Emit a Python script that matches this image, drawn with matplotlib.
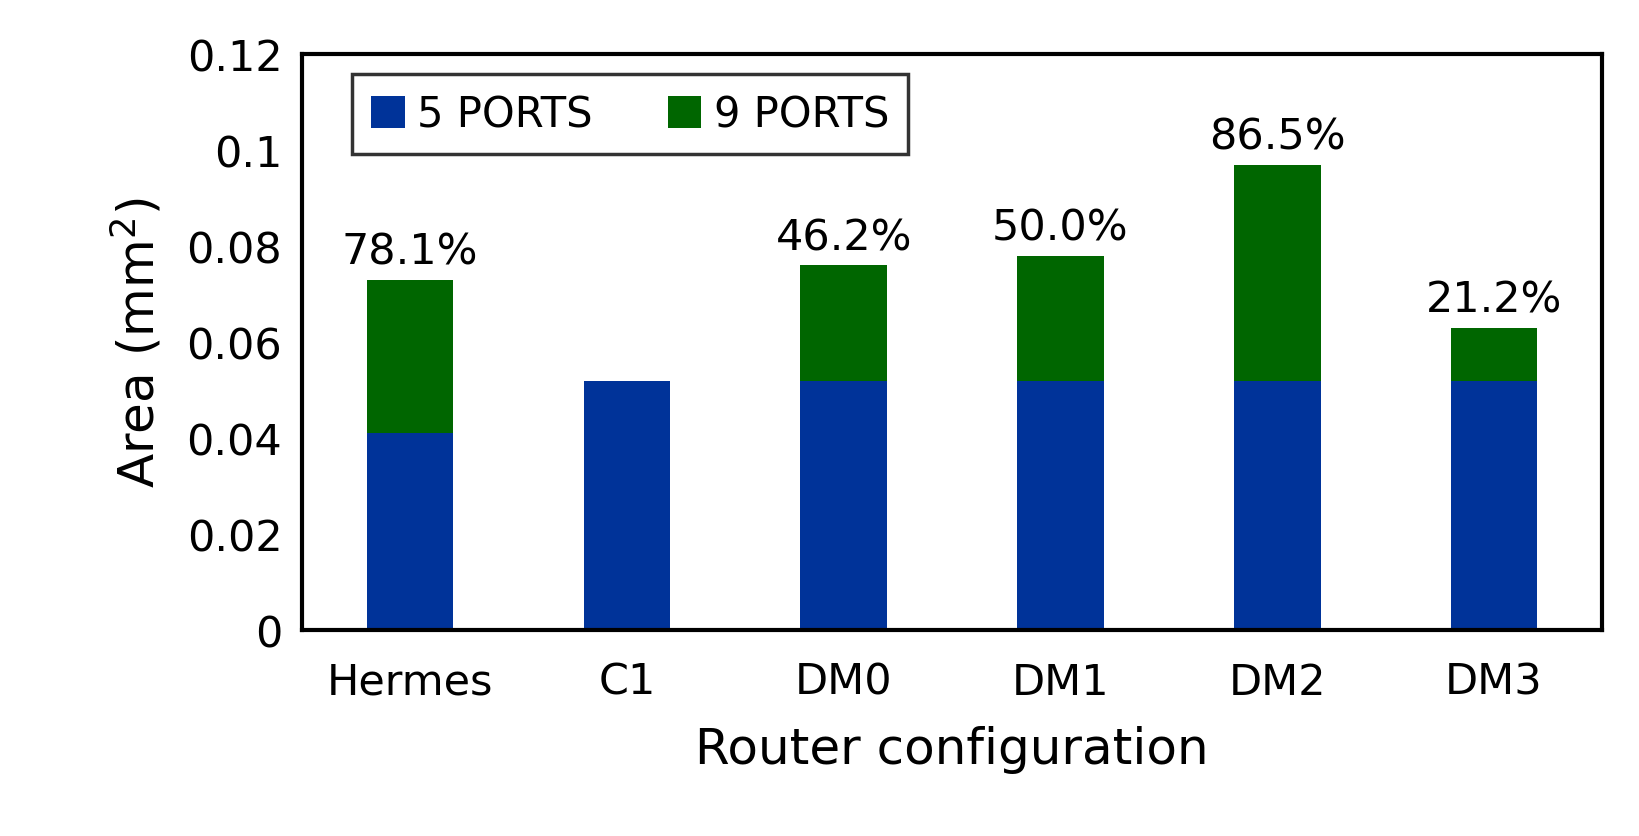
import matplotlib
matplotlib.use("Agg")
import matplotlib.pyplot as plt
import numpy as np

categories = ["Hermes", "C1", "DM0", "DM1", "DM2", "DM3"]
ports5 = [0.041, 0.052, 0.052, 0.052, 0.052, 0.052]
ports9_total = [0.073, None, 0.076, 0.078, 0.097, 0.063]
labels = ["78.1%", "", "46.2%", "50.0%", "86.5%", "21.2%"]

fig = plt.figure(figsize=(16.4, 8.37), dpi=100)
ax = fig.add_axes([0.184, 0.246, 0.793, 0.688])
x = np.arange(len(categories))
w = 0.4
ax.bar(x, ports5, w, color="#003399", label="5 PORTS")
extra = [(t - b) if t is not None else 0 for t, b in zip(ports9_total, ports5)]
ax.bar(x, extra, w, bottom=ports5, color="#006600", label="9 PORTS")
for xi, t, l in zip(x, ports9_total, labels):
    if t is not None:
        ax.text(xi, t + 0.0015, l, ha="center", va="bottom", fontsize=31)
ax.set_xlim(-0.5, 5.5)
ax.set_ylim(0, 0.12)
ax.set_yticks([0, 0.02, 0.04, 0.06, 0.08, 0.1, 0.12])
ax.set_yticklabels(["0", "0.02", "0.04", "0.06", "0.08", "0.1", "0.12"])
ax.set_xticks(x)
ax.set_xticklabels(categories)
ax.tick_params(axis="both", labelsize=31, length=0, pad=14)
ax.tick_params(axis="x", pad=22)
for s in ax.spines.values():
    s.set_linewidth(3)
ax.set_ylabel("Area (mm$^2$)", fontsize=36, labelpad=16)
ax.set_xlabel("Router configuration", fontsize=36, labelpad=16)
leg = ax.legend(loc="upper left", bbox_to_anchor=(0.039, 0.965),
                ncol=2, fontsize=30, frameon=True, fancybox=False, edgecolor="black",
                handlelength=0.8, handleheight=0.8, handletextpad=0.3,
                borderpad=0.45, columnspacing=1.8, borderaxespad=0)
leg.get_frame().set_linewidth(2.5)
fig.savefig("out.png")
